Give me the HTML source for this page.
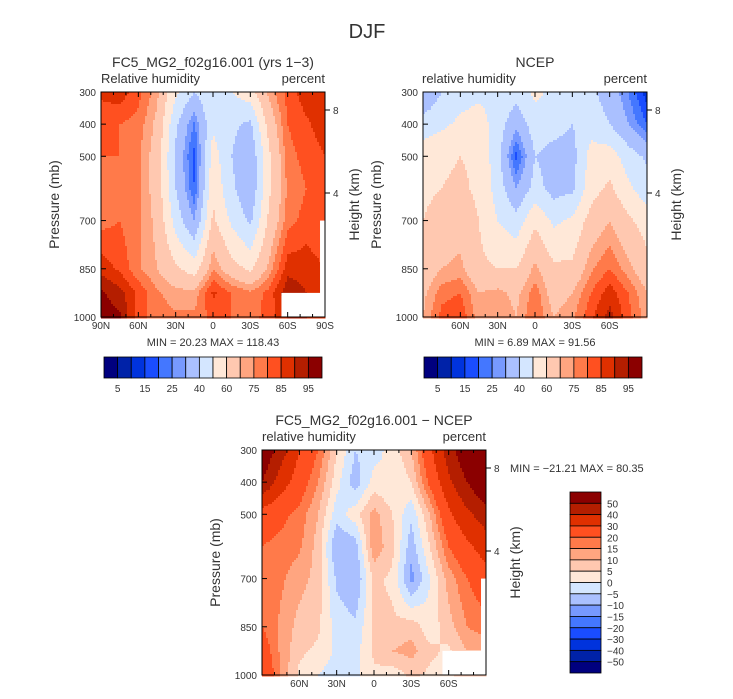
<!DOCTYPE html>
<html><head><meta charset="utf-8"><style>
body{margin:0;background:#fff;}
svg{display:block;font-family:"Liberation Sans",sans-serif;fill:#333;}
</style></head><body>
<svg id="c" width="733" height="699" viewBox="0 0 733 699" xmlns="http://www.w3.org/2000/svg">
<text x="367" y="38" font-size="20" text-anchor="middle">DJF</text>
</svg>
<script>
const lats=[90,75,60,45,30,15,0,-15,-30,-45,-60,-75,-90];
const levels=[300,400,500,600,700,850,925,1000];
const modelRH=[
[86,88,82,72,52,40,50,50,56,72,82,88,90],
[82,80,78,68,42,24,48,42,38,64,80,84,88],
[80,80,76,66,38,18,55,40,32,58,78,82,85],
[78,78,76,66,40,20,58,42,32,58,76,80,84],
[78,80,76,68,46,30,62,48,38,62,78,82,80],
[88,84,76,70,62,55,75,64,58,72,88,88,85],
[96,92,84,76,72,72,86,80,76,82,94,90,85],
[98,96,82,78,76,76,82,80,78,82,90,90,85]];
const ncepRH=[
[30,40,46,48,48,45,52,48,45,42,35,25,12],
[44,48,52,54,46,32,46,44,40,46,40,30,20],
[56,58,60,58,44,18,40,36,36,54,55,45,38],
[58,60,62,58,46,30,44,36,38,56,62,52,44],
[60,64,66,60,50,44,58,48,52,64,70,62,55],
[64,70,72,62,60,60,72,62,62,74,80,72,64],
[68,78,80,70,72,68,78,66,70,80,88,80,70],
[70,82,84,72,74,70,80,70,74,84,92,82,72]];
const diffRH=[
[60,45,30,20,5,-5,-2,2,10,28,45,60,75],
[50,35,25,15,2,-8,2,0,5,22,38,50,62],
[25,22,18,10,-3,3,12,5,-4,10,28,38,45],
[20,18,16,8,-10,-8,14,6,-8,5,20,28,35],
[18,16,12,8,-6,-10,6,4,-12,0,12,20,25],
[20,14,8,6,-2,-4,6,6,8,2,8,15,18],
[25,14,6,4,-1,-2,6,10,12,6,4,10,10],
[30,14,4,0,-3,-1,4,2,6,4,4,8,8]];
const rhBounds=[5,10,15,20,25,30,40,50,60,70,75,80,85,90,95];
const rhLabels=["5","15","25","40","60","75","85","95"];
const diffBounds=[-50,-40,-30,-20,-15,-10,-5,0,5,10,15,20,30,40,50];
const diffLabels=["50","40","30","20","15","10","5","0","\u22125","\u221210","\u221215","\u221220","\u221230","\u221240","\u221250"];
const pTicks=[300,400,500,700,850,1000];
const colors=["#00007f","#0022a8","#0033dd","#1a4dff","#4477ff","#7799ff","#aac0ff","#d4e6ff","#ffe8d8","#ffc8b0","#ffa580","#ff7a4a","#ff5020","#e03000","#b41e00","#8b0000"];
const svg=document.getElementById('c');
const NS="http://www.w3.org/2000/svg";
function mk(tag,attrs,parent){const e=document.createElementNS(NS,tag);for(const k in attrs)e.setAttribute(k,attrs[k]);(parent||svg).appendChild(e);return e;}
function txt(x,y,s,size,anchor,parent){const t=mk('text',{x:x,y:y,'font-size':size,'text-anchor':anchor||'middle'},parent);t.textContent=s;return t;}
function bin(v,b){let i=0;while(i<b.length&&v>=b[i])i++;return i;}
function sample(data,lat,p){
  let i=0;while(i<lats.length-2&&lat<lats[i+1])i++;
  const fx=(lats[i]-lat)/(lats[i]-lats[i+1]);
  let j=0;while(j<levels.length-2&&p>levels[j+1])j++;
  const fy=(p-levels[j])/(levels[j+1]-levels[j]);
  const a=data[j][i],b=data[j][i+1],c=data[j+1][i],d=data[j+1][i+1];
  return (a*(1-fx)+b*fx)*(1-fy)+(c*(1-fx)+d*fx)*fy;
}
function panel(name,x0,y0,w,h,data,bounds,full,holes){
  const g=mk('g',{});
  
  
  const xs=lat=>x0+(90-lat)/180*w;
  const ys=p=>y0+(p-300)/700*h;
  const cell=2;
  for(let py=0;py<h;py+=cell){
    const p=300+(py+cell/2)/h*700;
    let runStart=0,runC=-1;
    for(let px=0;px<=w;px+=cell){
      let c=-2;
      if(px<w){const lat=90-(px+cell/2)/w*180;c=bin(sample(data,lat,p),bounds);}
      if(c!==runC){
        if(runC>=0){const r=mk('rect',{x:x0+runStart,y:y0+py,width:Math.min(px,w)-runStart+0.5,height:cell+0.5,fill:colors[runC]},g);
          
          }
        runStart=px;runC=c;
      }
    }
  }
  holes.forEach(hh=>{const r=mk('rect',{x:xs(hh[0]),y:ys(hh[1]),width:xs(hh[2])-xs(hh[0]),height:ys(1000)-ys(hh[1]),fill:'#fff'},g);
    
    });
  const fr=mk('rect',{x:x0,y:y0,width:w,height:h,fill:'none',stroke:'#000','stroke-width':1});
  
  
  for(let lat=90;lat>=-90;lat-=10){
    const x=xs(lat),major=lat%30===0;const L=major?5:3;
    mk('line',{x1:x,y1:y0+h,x2:x,y2:y0+h-L,stroke:'#000'});
    mk('line',{x1:x,y1:y0,x2:x,y2:y0+L,stroke:'#000'});
    if(major&&(full||Math.abs(lat)<90)){
      const s=lat===0?'0':Math.abs(lat)+(lat>0?'N':'S');
      const t=txt(x,y0+h+12,s,10);
      
      
    }
  }
  pTicks.forEach(p=>{const y=ys(p);mk('line',{x1:x0,y1:y,x2:x0+5,y2:y,stroke:'#000'});
    const t=txt(x0-5,y+4,String(p),10,'end');
    
    });
  [[8,110-92],[4,193-92]].forEach(k=>{const y=y0+k[1];mk('line',{x1:x0+w,y1:y,x2:x0+w+5,y2:y,stroke:'#000'});
    const t=txt(x0+w+8,y+4,String(k[0]),10,'start');
    
    });
  const yl=txt(0,0,'Pressure (mb)',14);yl.setAttribute('transform',`translate(${x0-42},${y0+h/2}) rotate(-90)`);
  
  
  const hl=txt(0,0,'Height (km)',14);hl.setAttribute('transform',`translate(${x0+w+34},${y0+h/2}) rotate(-90)`);
  
  
}
function hbar(name,x0,y0,w,h){
  const g=mk('g',{});
  
  
  const cw=w/colors.length;
  colors.forEach((c,i)=>{const r=mk('rect',{x:x0+i*cw,y:y0,width:cw,height:h,fill:c,stroke:'#000','stroke-width':0.8},g);
    
    });
  rhLabels.forEach((s,k)=>{const t=txt(x0+(2*k+1)*cw,y0+h+14,s,10,'middle',g);
    
    });
}
function title(x,y,s,size,anchor,name){const t=txt(x,y,s,size,anchor);}
title(213,67,'FC5_MG2_f02g16.001 (yrs 1\u22123)',14,'middle','model-panel-title');
title(101,83,'Relative humidity',13,'start','model-variable-label');
title(325,83,'percent',13,'end','model-units-label');
panel('model-contour-panel',101,92,224,225,modelRH,rhBounds,true,[[-55,925,-90],[-86,700,-90]]);
title(213,346,'MIN =   20.23   MAX = 118.43',11,'middle','model-min-max');
hbar('model-colorbar',104,357,218,21);
title(535,67,'NCEP',14,'middle','ncep-panel-title');
title(422,83,'relative humidity',13,'start','ncep-variable-label');
title(647,83,'percent',13,'end','ncep-units-label');
panel('ncep-contour-panel',423,92,224,225,ncepRH,rhBounds,false,[]);
title(535,346,'MIN =    6.89   MAX =  91.56',11,'middle','ncep-min-max');
hbar('ncep-colorbar',424,357,218,21);
title(374,425,'FC5_MG2_f02g16.001 \u2212 NCEP',14,'middle','diff-panel-title');
title(262,441,'relative humidity',13,'start','diff-variable-label');
title(486,441,'percent',13,'end','diff-units-label');
panel('diff-contour-panel',262,450,224,225,diffRH,diffBounds,false,[[-55,925,-90],[-86,700,-90]]);
title(510,472,'MIN = \u221221.21   MAX =  80.35',11,'start','diff-min-max');
(function(){
  const g=mk('g',{});
  
  
  const x0=570,y0=492,w=31,h=181,ch=h/colors.length;
  colors.slice().reverse().forEach((c,i)=>{const r=mk('rect',{x:x0,y:y0+i*ch,width:w,height:ch,fill:c,stroke:'#000','stroke-width':0.8},g);
    
    });
  diffLabels.forEach((s,k)=>{const t=txt(x0+w+6,y0+(k+1)*ch+4,s,10,'start',g);
    
    });
})();
</script>
</body></html>
